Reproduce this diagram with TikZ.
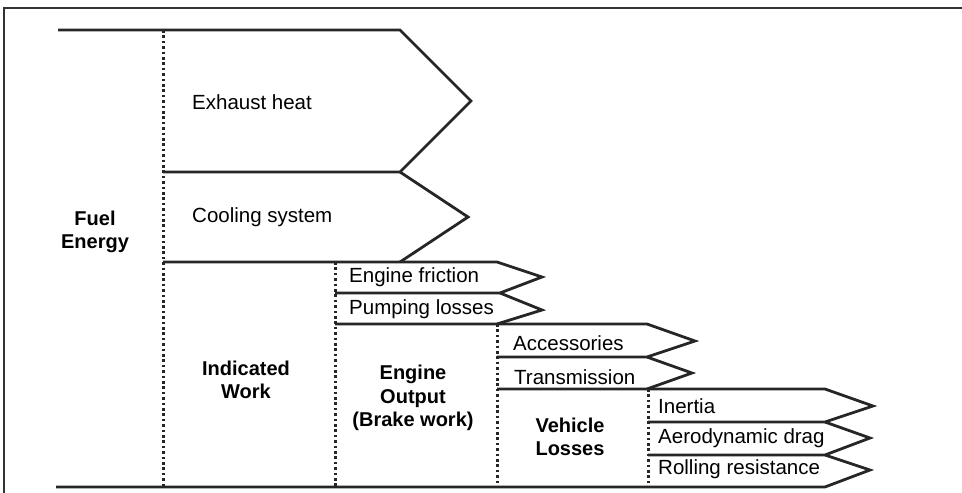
\documentclass[tikz,border=0pt]{standalone}
\usepackage{fontspec}
\setmainfont{Liberation Sans}
\begin{document}
\begin{tikzpicture}[x=1pt,y=-1pt,line join=miter,
  outline/.style={line width=2.8pt,black!85},
  dotline/.style={line width=3pt,black!85,dash pattern=on 2.6pt off 2.8pt},
  frame/.style={line width=1.8pt,black!80},
  lbl/.style={anchor=west,inner sep=0pt,font=\fontsize{20.5}{23}\selectfont},
  blbl/.style={align=center,inner sep=0pt,font=\fontsize{20}{23.5}\selectfont\bfseries}]
\useasboundingbox (0,0) rectangle (962,493);
% frame
\draw[frame] (4,493) -- (4,8) -- (962,8);
% exhaust and cooling
\draw[outline] (58,30) -- (400,30) -- (471,101) -- (400,172) -- (163,172);
\draw[outline] (400,172) -- (468,217) -- (400,262);
% engine friction / pumping
\draw[outline] (163,262) -- (497,262) -- (542,277) -- (500,293) -- (335,293);
\draw[outline] (500,293) -- (542,310) -- (497,324);
% accessories / transmission
\draw[outline] (335,324) -- (647,324) -- (695,341) -- (647,357) -- (497,357);
\draw[outline] (647,357) -- (692,373) -- (647,389);
% inertia / aero / rolling
\draw[outline] (497,389) -- (825,389) -- (873,406) -- (825,422) -- (648,422);
\draw[outline] (825,422) -- (870,438) -- (825,455) -- (648,455);
\draw[outline] (825,455) -- (870,470) -- (825,487) -- (56,487);
% dotted dividers
\draw[dotline] (163,30) -- (163,487);
\draw[dotline] (335,262) -- (335,487);
\draw[dotline] (497,324) -- (497,487);
\draw[dotline] (648,389) -- (648,487);
% labels
\node[lbl] (exh) at (192,102) {Exhaust heat};
\node[lbl] (cool) at (192,217) {Cooling system};
\node[blbl] (fuel) at (95,232) {Fuel\\Energy};
\node[lbl] (fric) at (349,277) {Engine friction};
\node[lbl] (pump) at (349,309) {Pumping losses};
\node[blbl] (ind) at (246,380) {Indicated\\Work};
\node[lbl] (acc) at (513,343) {Accessories};
\node[lbl] (trans) at (514,377) {Transmission};
\node[blbl] (eng) at (413,398) {Engine\\Output\\(Brake work)};
\node[blbl] (veh) at (570,437) {Vehicle\\Losses};
\node[lbl] (inert) at (658,406) {Inertia};
\node[lbl] (aero) at (658,438) {Aerodynamic drag};
\node[lbl] (roll) at (658,469) {Rolling resistance};
\end{tikzpicture}
\end{document}
